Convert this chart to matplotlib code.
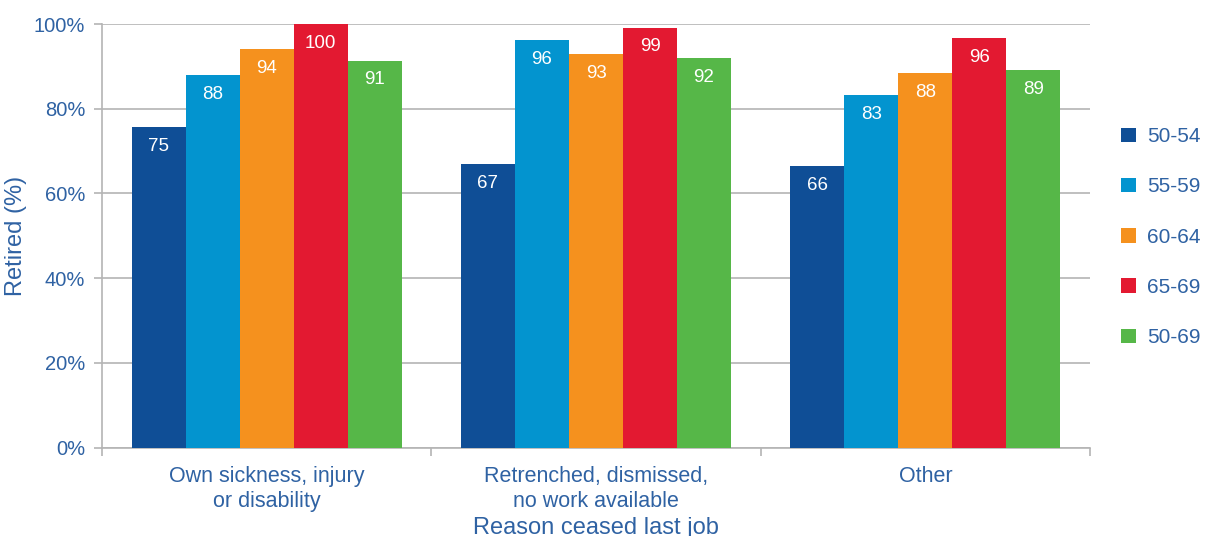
import numpy as np
import matplotlib.pyplot as plt
from matplotlib.ticker import FixedLocator, FuncFormatter

plt.rcParams['font.family'] = ['Liberation Sans', 'DejaVu Sans']

# data
categories = ["Own sickness, injury\nor disability",
              "Retrenched, dismissed,\nno work available",
              "Other"]
age_groups = ["50-54", "55-59", "60-64", "65-69", "50-69"]
values = {
    "50-54": [75.6, 67, 66.5],
    "55-59": [88, 96.3, 83.3],
    "60-64": [94.2, 93, 88.5],
    "65-69": [100, 99.2, 96.8],
    "50-69": [91.4, 92, 89.2],
}
labels = {
    "50-54": [75, 67, 66],
    "55-59": [88, 96, 83],
    "60-64": [94, 93, 88],
    "65-69": [100, 99, 96],
    "50-69": [91, 92, 89],
}
colors = ["#0F4E96", "#0394CF", "#F5911E", "#E31931", "#56B748"]

text_blue = "#2F62A3"
grey = "#B4B4B4"

fig = plt.figure(figsize=(12.06, 5.36), dpi=100)
ax = fig.add_axes([0.0846, 0.165, 0.8192, 0.790])

x = np.arange(len(categories))
w = 0.164
for i, g in enumerate(age_groups):
    pos = x + (i - 2) * w
    bars = ax.bar(pos, values[g], width=w, color=colors[i], label=g, zorder=3)
    for b, lab in zip(bars, labels[g]):
        ax.annotate(str(lab), (b.get_x() + b.get_width() / 2, b.get_height()),
                    xytext=(0, -14), textcoords="offset points",
                    ha="center", va="center", color="white", fontsize=13.5)

ax.set_xlim(-0.5, 2.5)
ax.set_ylim(0, 100)
ax.set_yticks(np.arange(0, 101, 20))
ax.yaxis.set_major_formatter(FuncFormatter(lambda v, p: f"{int(v)}%"))
ax.grid(axis="y", color=grey, linewidth=1.2, zorder=0)

ax.set_xticks(x)
ax.set_xticklabels(categories, linespacing=1.3)
ax.xaxis.set_minor_locator(FixedLocator([-0.5, 0.5, 1.5, 2.5]))
ax.tick_params(axis="x", which="major", length=0, pad=13, labelsize=15.5,
               labelcolor=text_blue)
ax.tick_params(axis="x", which="minor", length=6, color=grey, width=1.2)
ax.tick_params(axis="y", length=6, color=grey, width=1.2, labelsize=14.5,
               labelcolor=text_blue, pad=6)

for s in ["top", "right"]:
    ax.spines[s].set_visible(False)
for s in ["left", "bottom"]:
    ax.spines[s].set_color(grey)
    ax.spines[s].set_linewidth(1.2)

ax.set_ylabel("Retired (%)", color=text_blue, fontsize=17, labelpad=5)
ax.set_xlabel("Reason ceased last job", color=text_blue, fontsize=17, labelpad=3)

leg = ax.legend(loc="center left", bbox_to_anchor=(1.017, 0.497), frameon=False,
                fontsize=15, labelcolor=text_blue, handlelength=0.7,
                handleheight=0.7, labelspacing=1.5, handletextpad=0.55,
                borderaxespad=0.3)

fig.savefig("out.png", dpi=100)
